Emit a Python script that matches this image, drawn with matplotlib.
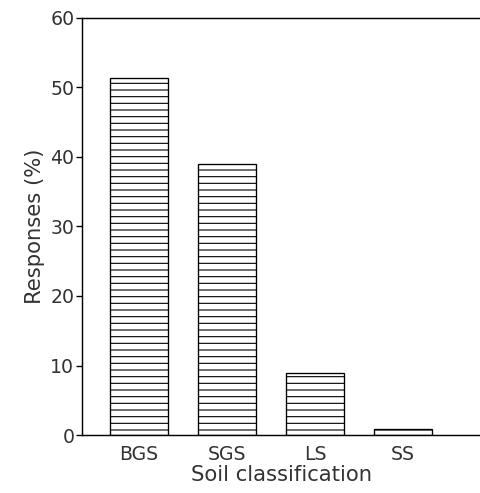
import numpy as np
import matplotlib
matplotlib.use("Agg")
import matplotlib.pyplot as plt

categories = ["BGS", "SGS", "LS", "SS"]
responses = [51.4, 39.0, 8.9, 0.9]

plt.rcParams["hatch.linewidth"] = 1.0
plt.rcParams["font.family"] = "DejaVu Sans"

dpi = 80
fig = plt.figure(figsize=(480 / dpi, 493 / dpi), dpi=dpi)
ax = fig.add_axes([0.171, 0.1176, 0.829, 0.846])

x = np.arange(len(categories))
ax.bar(x, responses, width=0.66, color="white", edgecolor="black",
       linewidth=1.2, hatch="--")

ax.set_xlim(-0.648, 3.875)
ax.set_ylim(0, 60)
ax.set_yticks([0, 10, 20, 30, 40, 50, 60])
ax.set_xticks(x)
ax.set_xticklabels(categories)
ax.tick_params(axis="x", length=0, labelsize=17, pad=9, colors="#333333")
ax.tick_params(axis="y", direction="out", length=5, width=1.2,
               labelsize=17, pad=2, labelcolor="#333333")
ax.spines["right"].set_visible(False)
for s in ["left", "top", "bottom"]:
    ax.spines[s].set_linewidth(1.3)

ax.set_xlabel("Soil classification", fontsize=19, labelpad=1, color="#333333")
ax.set_ylabel("Responses (%)", fontsize=19, labelpad=5, color="#333333")

fig.savefig("out.png", dpi=dpi)
